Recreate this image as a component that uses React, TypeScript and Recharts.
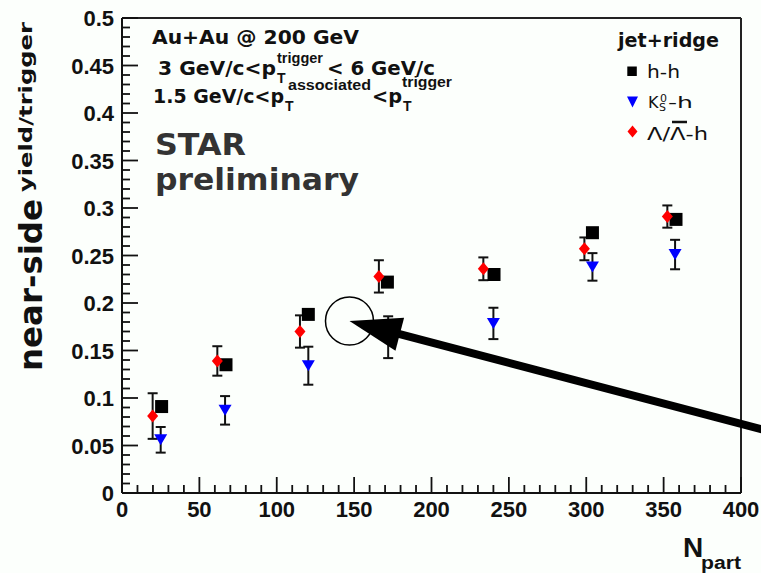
import React from 'react';
import { ScatterChart, Scatter, XAxis, YAxis, ErrorBar, ReferenceLine, ReferenceDot } from 'recharts';

// h-h (black squares)
const hhNpart = [25.6, 67.2, 120.4, 171.5, 240.4, 304, 358];
const hhYield = [0.091, 0.135, 0.188, 0.222, 0.23, 0.274, 0.288];

// K0s-h (blue down triangles)
const k0Npart = [25, 66.6, 120.4, 172, 240, 304, 357.4];
const k0Yield = [0.056, 0.087, 0.134, 0.164, 0.1785, 0.238, 0.251];
const k0Err = [0.0135, 0.015, 0.02, 0.022, 0.0165, 0.0145, 0.0155];

// Lambda/anti-Lambda-h (red diamonds)
const lamNpart = [19.8, 61.6, 115, 166, 233.5, 298.8, 352.4];
const lamYield = [0.081, 0.139, 0.17, 0.228, 0.236, 0.257, 0.291];
const lamErr = [0.024, 0.0155, 0.017, 0.017, 0.012, 0.012, 0.0117];

// axis ticks (major + minor)
const xTicks = Array.from({ length: 41 }, (_, i) => i * 10);
const yTicks = Array.from({ length: 51 }, (_, i) => +(i * 0.01).toFixed(2));
const xDomain = [0, 400];
const yDomain = [0, 0.5];

// annotation (circle + arrow) in data coordinates
const arrowTip = { x: 147, y: 0.181 };
const arrowTail = { x: 416, y: 0.066 };

const hhData = hhNpart.map((x, i) => ({ x, y: hhYield[i] }));
const k0Data = k0Npart.map((x, i) => ({ x, y: k0Yield[i], err: k0Err[i] }));
const lamData = lamNpart.map((x, i) => ({ x, y: lamYield[i], err: lamErr[i] }));

const BG = '#fcfffc';
const TICK_FONT = '"Liberation Sans", Arial, sans-serif';
const TEXT_FONT = '"DejaVu Sans", Verdana, sans-serif';

const XTick = (p: any) => {
  const { x, y, payload } = p;
  const v = payload.value;
  const major = Math.round(v) % 50 === 0;
  return (
    <g>
      <line x1={x} y1={y} x2={x} y2={y - (major ? 16 : 8)} stroke="#111" strokeWidth={1.8} />
      {major && (
        <text x={x} y={y + 24} textAnchor="middle" fontFamily={TICK_FONT} fontWeight="bold" fontSize={22} fill="#111">
          {v}
        </text>
      )}
    </g>
  );
};

const YTick = (p: any) => {
  const { x, y, payload } = p;
  const v = payload.value;
  const major = Math.round(v * 100) % 5 === 0;
  const label = v === 0 ? '0' : String(+v.toFixed(2));
  return (
    <g>
      <line x1={x} y1={y} x2={x + (major ? 16 : 8)} y2={y} stroke="#111" strokeWidth={1.8} />
      {major && (
        <text x={x - 8} y={y + 8} textAnchor="end" fontFamily={TICK_FONT} fontWeight="bold" fontSize={22} fill="#111">
          {label}
        </text>
      )}
    </g>
  );
};

const Square = (p: any) => {
  const { cx, cy } = p;
  if (cx == null || cy == null) return null;
  return <rect x={cx - 6.5} y={cy - 6.5} width={13} height={13} fill="#000" />;
};
const TriDown = (p: any) => {
  const { cx, cy } = p;
  if (cx == null || cy == null) return null;
  return <polygon points={`${cx - 6.5},${cy - 5.5} ${cx + 6.5},${cy - 5.5} ${cx},${cy + 5.5}`} fill="#0000ff" />;
};
const Diamond = (p: any) => {
  const { cx, cy } = p;
  if (cx == null || cy == null) return null;
  return <polygon points={`${cx},${cy - 6.5} ${cx + 5.5},${cy} ${cx},${cy + 6.5} ${cx - 5.5},${cy}`} fill="#ff0000" />;
};

const ArrowShape = (p: any) => {
  const { x1, y1, x2, y2 } = p;
  if ([x1, y1, x2, y2].some((v) => v == null || isNaN(v))) return null;
  const tipFirst = x1 < x2;
  const tx = tipFirst ? x1 : x2;
  const ty = tipFirst ? y1 : y2;
  const ex = tipFirst ? x2 : x1;
  const ey = tipFirst ? y2 : y1;
  const len = Math.hypot(ex - tx, ey - ty);
  const ux = (ex - tx) / len;
  const uy = (ey - ty) / len;
  const L = 52;
  const W = 17;
  const bx = tx + ux * L;
  const by = ty + uy * L;
  return (
    <g>
      <line x1={bx - ux * 4} y1={by - uy * 4} x2={ex} y2={ey} stroke="#000" strokeWidth={8} />
      <polygon
        points={`${tx},${ty} ${bx - uy * W},${by + ux * W} ${bx + uy * W},${by - ux * W}`}
        fill="#000"
      />
    </g>
  );
};

const Overlay = () => (
  <svg
    width={761}
    height={573}
    style={{ position: 'absolute', left: 0, top: 0, pointerEvents: 'none' }}
  >
    {/* Y axis title */}
    <text
      x={42}
      y={285}
      transform="rotate(-90, 42, 285)"
      textAnchor="middle"
      fontFamily={TEXT_FONT}
      fontWeight="bold"
      fontSize={32}
      fill="#111"
      textLength={172}
      lengthAdjust="spacingAndGlyphs"
    >
      near-side
    </text>
    <text
      x={32}
      y={107}
      transform="rotate(-90, 32, 107)"
      textAnchor="middle"
      fontFamily={TEXT_FONT}
      fontWeight="bold"
      fontSize={18}
      fill="#111"
      textLength={170}
      lengthAdjust="spacingAndGlyphs"
    >
      yield/trigger
    </text>

    {/* X axis title */}
    <text x={683} y={557} fontFamily={TICK_FONT} fontWeight="bold" fontSize={28} fill="#111">N</text>
    <text x={701} y={569} fontFamily={TICK_FONT} fontWeight="bold" fontSize={18} fill="#111" textLength={40} lengthAdjust="spacingAndGlyphs">part</text>

    {/* annotation text */}
    <g fontFamily={TEXT_FONT} fontWeight="bold" fill="#111">
      <text x={152} y={44} fontSize={20} textLength={207} lengthAdjust="spacingAndGlyphs">Au+Au @ 200 GeV</text>

      <text x={158} y={75} fontSize={20} textLength={118} lengthAdjust="spacingAndGlyphs">3 GeV/c&lt;p</text>
      <text x={277} y={83} fontSize={14} fontFamily={TICK_FONT}>T</text>
      <text x={277} y={63} fontSize={14} fontFamily={TICK_FONT} textLength={46} lengthAdjust="spacingAndGlyphs">trigger</text>
      <text x={327} y={75} fontSize={20} textLength={108} lengthAdjust="spacingAndGlyphs">&lt; 6 GeV/c</text>

      <text x={153} y={103} fontSize={20} textLength={131} lengthAdjust="spacingAndGlyphs">1.5 GeV/c&lt;p</text>
      <text x={285} y={111} fontSize={14} fontFamily={TICK_FONT}>T</text>
      <text x={288} y={90} fontSize={14} fontFamily={TICK_FONT} textLength={83} lengthAdjust="spacingAndGlyphs">associated</text>
      <text x={372} y={103} fontSize={20} textLength={30} lengthAdjust="spacingAndGlyphs">&lt;p</text>
      <text x={403} y={111} fontSize={14} fontFamily={TICK_FONT}>T</text>
      <text x={402} y={87} fontSize={14} fontFamily={TICK_FONT} textLength={50} lengthAdjust="spacingAndGlyphs">trigger</text>
    </g>
    <g fontFamily={TEXT_FONT} fontWeight="bold" fill="#333">
      <text x={155} y={155} fontSize={30} textLength={91} lengthAdjust="spacingAndGlyphs">STAR</text>
      <text x={155} y={190} fontSize={30} textLength={204} lengthAdjust="spacingAndGlyphs">preliminary</text>
    </g>

    {/* legend */}
    <text x={618} y={47} fontFamily={TEXT_FONT} fontWeight="bold" fontSize={19} fill="#111" textLength={101} lengthAdjust="spacingAndGlyphs">jet+ridge</text>
    <rect x={627.3} y={66.5} width={9.5} height={9.5} fill="#000" />
    <text x={647} y={78} fontFamily={TEXT_FONT} fontSize={17} fill="#111" textLength={33} lengthAdjust="spacingAndGlyphs">h-h</text>

    <polygon points="627,96.5 638,96.5 632.5,107.5" fill="#0000ff" />
    <text x={648} y={107.5} fontFamily={TEXT_FONT} fontSize={16} fill="#111">K</text>
    <text x={660} y={101.5} fontFamily={TEXT_FONT} fontSize={11} fill="#111">0</text>
    <text x={659} y={111} fontFamily={TEXT_FONT} fontSize={11} fill="#111">S</text>
    <text x={668} y={107.5} fontFamily={TEXT_FONT} fontSize={16} fill="#111" textLength={25} lengthAdjust="spacingAndGlyphs">-h</text>

    <polygon points="632.5,125.5 637.5,131.5 632.5,137.5 627.5,131.5" fill="#ff0000" />
    <text x={647} y={139.5} fontFamily={TEXT_FONT} fontSize={17} fill="#111" textLength={61} lengthAdjust="spacingAndGlyphs">Λ/Λ-h</text>
    <line x1={672} y1={122} x2={687} y2={122} stroke="#111" strokeWidth={2.5} />
  </svg>
);

export default function App() {
  return (
    <div
      style={{
        position: 'absolute',
        left: 0,
        top: 0,
        width: 761,
        height: 573,
        background: BG,
        overflow: 'hidden',
      }}
    >
      <ScatterChart width={761} height={573} margin={{ top: 18, right: 20, bottom: 50, left: 62 }}>
        <XAxis
          type="number"
          dataKey="x"
          domain={xDomain}
          ticks={xTicks}
          interval={0}
          allowDataOverflow
          height={30}
          tickLine={false}
          tickSize={0}
          tickMargin={0}
          tick={XTick}
          axisLine={{ stroke: '#111', strokeWidth: 2 }}
        />
        <YAxis
          type="number"
          dataKey="y"
          domain={yDomain}
          ticks={yTicks}
          interval={0}
          allowDataOverflow
          width={60}
          tickLine={false}
          tickSize={0}
          tickMargin={0}
          tick={YTick}
          axisLine={{ stroke: '#111', strokeWidth: 2 }}
        />
        <ReferenceLine y={0.5} stroke="#222" strokeWidth={2} />
        <ReferenceLine x={400} stroke="#222" strokeWidth={2} />
        <Scatter data={hhData} shape={Square} isAnimationActive={false} />
        <Scatter data={k0Data} shape={TriDown} isAnimationActive={false}>
          <ErrorBar dataKey="err" direction="y" stroke="#111" strokeWidth={2} width={5} />
        </Scatter>
        <Scatter data={lamData} shape={Diamond} isAnimationActive={false}>
          <ErrorBar dataKey="err" direction="y" stroke="#111" strokeWidth={2} width={5} />
        </Scatter>
        <ReferenceDot
          x={arrowTip.x}
          y={arrowTip.y}
          r={24}
          fill="none"
          stroke="#000"
          strokeWidth={1.5}
          ifOverflow="visible"
          zIndex={2500}
        />
        <ReferenceLine
          segment={[arrowTail, arrowTip]}
          ifOverflow="visible"
          shape={ArrowShape}
          zIndex={2500}
        />
      </ScatterChart>
      <Overlay />
    </div>
  );
}
